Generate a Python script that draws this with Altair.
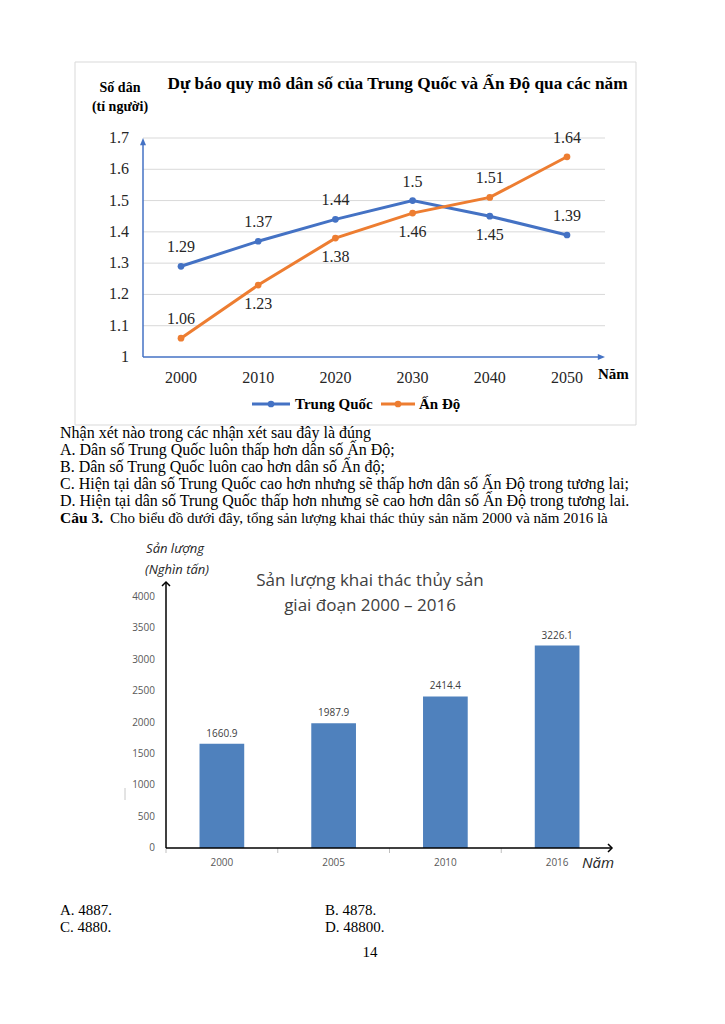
import altair as alt
import pandas as pd

# ---------------- data ----------------
years = [2000, 2010, 2020, 2030, 2040, 2050]
china = [1.29, 1.37, 1.44, 1.5, 1.45, 1.39]
india = [1.06, 1.23, 1.38, 1.46, 1.51, 1.64]
china_pos = ["above", "above", "above", "above", "below", "above"]
india_pos = ["above", "below", "below", "below", "above", "above"]
series = ["Trung Quốc", "Ấn Độ"]
series_colors = ["#4472C4", "#ED7D31"]
pop_ticks = [1.0, 1.1, 1.2, 1.3, 1.4, 1.5, 1.6, 1.7]
pop_tick_labels = ["1", "1.1", "1.2", "1.3", "1.4", "1.5", "1.6", "1.7"]
pop_grid = [1.1, 1.2, 1.3, 1.4, 1.5, 1.6, 1.7]

bar_years = ["2000", "2005", "2010", "2016"]
catch = [1660.9, 1987.9, 2414.4, 3226.1]
catch_ticks = [0, 500, 1000, 1500, 2000, 2500, 3000, 3500, 4000]

title1 = "Dự báo quy mô dân số của Trung Quốc và Ấn Độ qua các năm"
ytitle1 = ["Số dân", "(tỉ người)"]
xtitle1 = "Năm"

para_lines = [
    "Nhận xét nào trong các nhận xét sau đây là đúng",
    "A. Dân số Trung Quốc luôn thấp hơn dân số Ấn Độ;",
    "B. Dân số Trung Quốc luôn cao hơn dân số Ấn độ;",
    "C. Hiện tại dân số Trung Quốc cao hơn nhưng sẽ thấp hơn dân số Ấn Độ trong tương lai;",
    "D. Hiện tại dân số Trung Quốc thấp hơn nhưng sẽ cao hơn dân số Ấn Độ trong tương lai.",
]
q3_bold = "Câu 3."
q3_rest = "Cho biểu đồ dưới đây, tổng sản lượng khai thác thủy sản năm 2000 và năm 2016 là"

title2 = ["Sản lượng khai thác thủy sản", "giai đoạn 2000 – 2016"]
ytitle2 = ["Sản lượng", "(Nghìn tấn)"]
xtitle2 = "Năm"
answers = ["A. 4887.", "B. 4878.", "C. 4880.", "D. 48800."]
page_no = "14"

SERIF = "Liberation Serif"
SANS = "Open Sans"
ONE = pd.DataFrame({"a": [0]})

# ---------------- tables ----------------
df_pop = pd.DataFrame({
    "year": years * 2,
    "value": china + india,
    "series": [series[0]] * len(years) + [series[1]] * len(years),
    "pos": china_pos + india_pos,
})
df_pop["label"] = [str(v) for v in df_pop["value"]]
df_pticks = pd.DataFrame({"v": pop_ticks, "t": pop_tick_labels})
df_pgrid = pd.DataFrame({"v": pop_grid})
df_years = pd.DataFrame({"year": years, "t": [str(y) for y in years]})

df_bar = pd.DataFrame({"yr": bar_years, "v": catch, "lab": [f"{v:.1f}" for v in catch]})
df_bticks = pd.DataFrame({"v": catch_ticks, "t": [str(v) for v in catch_ticks]})

# ---------------- scales ----------------
xs = alt.Scale(domain=[2000, 2050], range=[173, 559])
ys = alt.Scale(domain=[1, 1.7], range=[349, 130], zero=False, nice=False)
cs = alt.Scale(domain=series, range=series_colors)
xb = alt.Scale(domain=bar_years, range=[158, 605], paddingInner=0.6, paddingOuter=0.3)
xb_edges = alt.Scale(domain=bar_years, range=[158, 605], paddingInner=0, paddingOuter=0)
yb = alt.Scale(domain=[0, 4000], range=[840, 589], zero=True, nice=False)


def txt(s, x, y, **kw):
    return alt.Chart(pd.DataFrame({"t": [s]})).mark_text(**kw).encode(
        text="t:N", x=alt.value(x), y=alt.value(y))


layers = []

# ====== chart 1: line chart ======
layers.append(alt.Chart(ONE).mark_rect(fillOpacity=0, stroke="#d9d9d9", strokeWidth=1).encode(
    x=alt.value(67), x2=alt.value(628), y=alt.value(54), y2=alt.value(417)))
layers.append(alt.Chart(df_pgrid).mark_rule(color="#d9d9d9", strokeWidth=1).encode(
    y=alt.Y("v:Q", scale=ys, axis=None), x=alt.value(135), x2=alt.value(597)))
# axis lines + arrows
layers.append(alt.Chart(ONE).mark_rule(color="#4472C4", strokeWidth=1.5).encode(
    x=alt.value(135), y=alt.Y(datum=1, type="quantitative", scale=ys, axis=None), y2=alt.value(134)))
layers.append(alt.Chart(ONE).mark_rule(color="#4472C4", strokeWidth=1.5).encode(
    x=alt.value(135), x2=alt.value(592), y=alt.Y(datum=1, type="quantitative", scale=ys, axis=None)))
layers.append(alt.Chart(ONE).mark_point(shape="M0,0L0.75,1.8L-0.75,1.8Z", size=64, filled=True,
                                        color="#4472C4", opacity=1).encode(
    x=alt.value(135), y=alt.value(130)))
layers.append(alt.Chart(ONE).mark_point(shape="M0,0L-1.8,-0.75L-1.8,0.75Z", size=64, filled=True,
                                        color="#4472C4", opacity=1).encode(
    x=alt.value(597), y=alt.Y(datum=1, type="quantitative", scale=ys, axis=None)))
# tick labels
layers.append(alt.Chart(df_pticks).mark_text(font=SERIF, fontSize=16, align="right",
                                             baseline="middle", color="#262626").encode(
    text="t:N", y=alt.Y("v:Q", scale=ys, axis=None), x=alt.value(121)))
layers.append(alt.Chart(df_years).mark_text(font=SERIF, fontSize=16, align="center",
                                            baseline="middle", color="#262626").encode(
    text="t:N", x=alt.X("year:Q", scale=xs, axis=None), y=alt.value(370)))
# series
enc = dict(x=alt.X("year:Q", scale=xs, axis=None),
           y=alt.Y("value:Q", scale=ys, axis=None),
           color=alt.Color("series:N", scale=cs, legend=None))
layers.append(alt.Chart(df_pop).mark_line(strokeWidth=3).encode(**enc))
layers.append(alt.Chart(df_pop).mark_point(filled=True, size=45, opacity=1).encode(**enc))
for pos, dy in [("above", -19), ("below", 19)]:
    layers.append(alt.Chart(df_pop).transform_filter(alt.datum.pos == pos).mark_text(
        font=SERIF, fontSize=16, baseline="middle", dy=dy, color="#262626").encode(
        text="label:N", x=alt.X("year:Q", scale=xs, axis=None),
        y=alt.Y("value:Q", scale=ys, axis=None)))
# titles
layers.append(txt(title1, 389.5, 76, font=SERIF, fontSize=17.3, fontWeight="bold", color="#000000"))
layers.append(txt(ytitle1[0], 112, 80, font=SERIF, fontSize=14, fontWeight="bold", color="#000000"))
layers.append(txt(ytitle1[1], 112, 99, font=SERIF, fontSize=14, fontWeight="bold", color="#000000"))
layers.append(txt(xtitle1, 590, 366, font=SERIF, fontSize=15, fontWeight="bold", align="left",
                  color="#000000"))
# legend
leg = [(244, 282, 263, 287), (373, 407, 390, 411)]
for name, col, (xa, xb_, xm, xt) in zip(series, series_colors, leg):
    layers.append(alt.Chart(ONE).mark_rule(color=col, strokeWidth=3).encode(
        x=alt.value(xa), x2=alt.value(xb_), y=alt.value(396)))
    layers.append(alt.Chart(ONE).mark_point(filled=True, size=45, opacity=1, color=col).encode(
        x=alt.value(xm), y=alt.value(396)))
    layers.append(txt(name, xt, 396, font=SERIF, fontSize=15, fontWeight="bold", align="left",
                      color="#000000"))

# ====== paragraph ======
layers.append(alt.Chart(pd.DataFrame({"t": ["\n".join(para_lines)]})).mark_text(
    font=SERIF, fontSize=16, align="left", baseline="top", lineBreak="\n", lineHeight=17,
    color="#000000").encode(text="t:N", x=alt.value(52), y=alt.value(417)))
layers.append(txt(q3_bold, 52, 510, font=SERIF, fontSize=15.5, fontWeight="bold", align="left",
                  color="#000000"))
layers.append(txt(q3_rest, 102, 510, font=SERIF, fontSize=15, align="left", color="#000000"))

# ====== chart 2: bar chart ======
layers.append(alt.Chart(df_bar).mark_bar(color="#4F81BD").encode(
    x=alt.X("yr:N", scale=xb, axis=None), y=alt.Y("v:Q", scale=yb, axis=None)))
layers.append(alt.Chart(df_bar).mark_text(font=SANS, fontSize=10, baseline="bottom", dy=-5,
                                          color="#404040").encode(
    text="lab:N", x=alt.X("yr:N", scale=xb, axis=None), y=alt.Y("v:Q", scale=yb, axis=None)))
layers.append(alt.Chart(df_bar).mark_rule(color="#bfbfbf", strokeWidth=1).encode(
    x=alt.X("yr:N", scale=xb_edges, bandPosition=0, axis=None), y=alt.value(840), y2=alt.value(845)))
layers.append(alt.Chart(ONE).mark_rule(color="#000000", strokeWidth=1.5).encode(
    x=alt.value(158), y=alt.Y(datum=0, type="quantitative", scale=yb, axis=None), y2=alt.value(575)))
layers.append(alt.Chart(ONE).mark_rule(color="#000000", strokeWidth=1.5).encode(
    x=alt.value(158), x2=alt.value(603), y=alt.Y(datum=0, type="quantitative", scale=yb, axis=None)))
layers.append(alt.Chart(ONE).mark_point(shape="M-1,1L0,0L1,1", size=64, filled=False,
                                        color="#000000", strokeWidth=1.5, opacity=1).encode(
    x=alt.value(158), y=alt.value(574)))
layers.append(alt.Chart(ONE).mark_point(shape="M-1,-1L0,0L-1,1", size=64, filled=False,
                                        color="#000000", strokeWidth=1.5, opacity=1).encode(
    x=alt.value(604), y=alt.Y(datum=0, type="quantitative", scale=yb, axis=None)))
layers.append(alt.Chart(df_bticks).mark_text(font=SANS, fontSize=10, align="right",
                                             baseline="middle", color="#595959").encode(
    text="t:N", y=alt.Y("v:Q", scale=yb, axis=None), x=alt.value(147)))
layers.append(alt.Chart(df_bar).mark_text(font=SANS, fontSize=10, baseline="middle",
                                          color="#595959").encode(
    text="yr:N", x=alt.X("yr:N", scale=xb, axis=None), y=alt.value(855)))
layers.append(txt(xtitle2, 574, 855, font=SANS, fontSize=15, fontStyle="italic", align="left",
                  color="#262626"))
layers.append(txt(ytitle2[0], 167, 541, font=SANS, fontSize=13, fontStyle="italic", color="#262626"))
layers.append(txt(ytitle2[1], 169, 562, font=SANS, fontSize=13, fontStyle="italic", color="#262626"))
layers.append(txt(title2[0], 362, 573, font=SANS, fontSize=17, color="#404040"))
layers.append(txt(title2[1], 362, 598, font=SANS, fontSize=17, color="#404040"))
layers.append(alt.Chart(ONE).mark_rule(color="#c8c8c8", strokeWidth=1).encode(
    x=alt.value(117), y=alt.value(780), y2=alt.value(792)))

# ====== answers ======
layers.append(txt(answers[0], 52, 902, font=SERIF, fontSize=15, align="left", color="#000000"))
layers.append(txt(answers[1], 317, 902, font=SERIF, fontSize=15, align="left", color="#000000"))
layers.append(txt(answers[2], 52, 919, font=SERIF, fontSize=15, align="left", color="#000000"))
layers.append(txt(answers[3], 317, 919, font=SERIF, fontSize=15, align="left", color="#000000"))
layers.append(txt(page_no, 362, 944, font=SERIF, fontSize=15, color="#000000"))

chart = alt.layer(*layers).resolve_scale(
    x="independent", y="independent", color="independent"
).properties(
    width=709, height=1000, padding=0,
    autosize=alt.AutoSizeParams(type="none"),
).configure_view(stroke=None)

chart.save("out.html", embed_options={"renderer": "svg", "actions": False})
